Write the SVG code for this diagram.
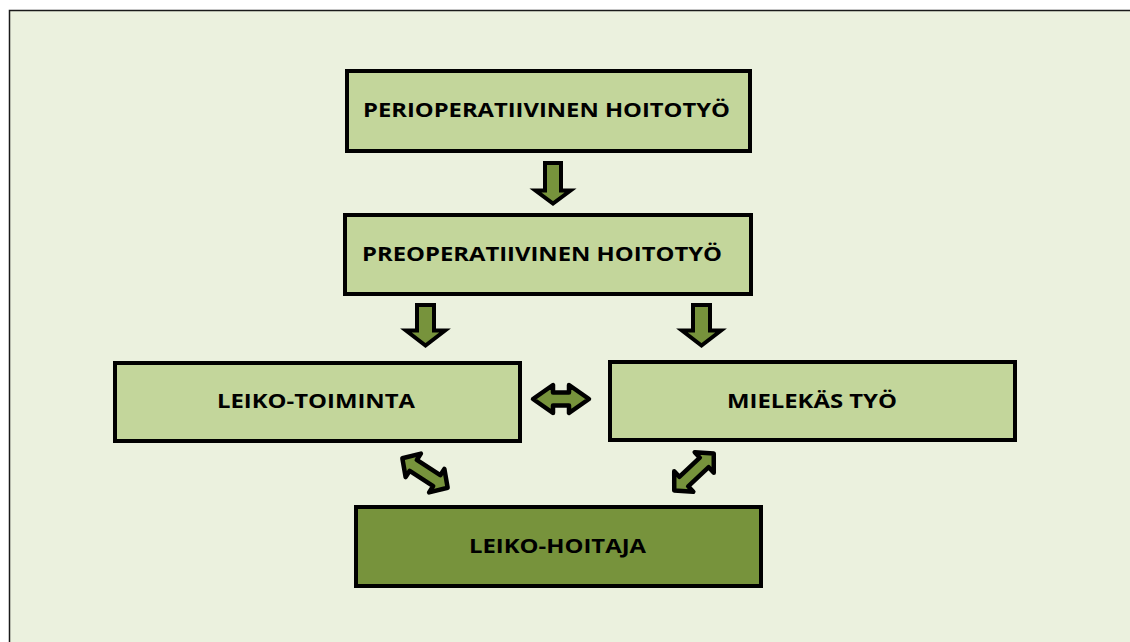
<svg xmlns="http://www.w3.org/2000/svg" width="1130" height="642" viewBox="0 0 1130 642">
  <style>
    .box { fill: #c3d69b; stroke: #000; stroke-width: 4; }
    .dark { fill: #77933c; stroke: #000; stroke-width: 4; }
    .lbl { font-family: "Open Sans", "Liberation Sans", sans-serif; font-weight: 700; font-size: 19.5px; fill: #000; text-anchor: middle; }
    .arr { fill: #77933c; stroke: #000; stroke-width: 4; stroke-linejoin: miter; }
    .arrR { fill: #77933c; stroke: #000; stroke-width: 4.5; stroke-linejoin: round; }
  </style>
  <defs>
    <path id="down1" d="M-8,0 L8,0 L8,27.5 L17.5,27.5 L0,40.5 L-17.5,27.5 L-8,27.5 Z"/>
    <path id="down2" d="M-8.5,0 L8.5,0 L8.5,25.5 L19.5,25.5 L0,40.5 L-19.5,25.5 L-8.5,25.5 Z"/>
    <path id="dbl" d="M-27,0 L-14,-14 L-14,-6.5 L14,-6.5 L14,-14 L27,0 L14,14 L14,6.5 L-14,6.5 L-14,14 Z"/>
  </defs>
  <rect x="0" y="0" width="1130" height="642" fill="#ffffff"/>
  <rect x="9.5" y="10.5" width="1140" height="660" fill="#ebf1de" stroke="#1a1a1a" stroke-width="1.5"/>

  <g id="connectors">
    <use href="#down1" class="arr" transform="translate(553,163)"/>
    <use href="#down2" class="arr" transform="translate(425.5,305)"/>
    <use href="#down2" class="arr" transform="translate(701.5,305)"/>
    <path class="arrR" d="M533,399 L553,385 L553,392.5 L569,392.5 L569,385 L589,399 L569,413 L569,405.5 L553,405.5 L553,413 Z"/>
    <use href="#dbl" class="arrR" transform="translate(425,473) rotate(33)"/>
    <use href="#dbl" class="arrR" transform="translate(694,472) rotate(-43)"/>
  </g>

  <g id="perioperatiivinen">
    <rect class="box" x="347" y="71" width="403" height="80"/>
    <text class="lbl" x="546.5" y="117" textLength="367" lengthAdjust="spacingAndGlyphs">PERIOPERATIIVINEN HOITOTYÖ</text>
  </g>
  <g id="preoperatiivinen">
    <rect class="box" x="345" y="215" width="406" height="79"/>
    <text class="lbl" x="542" y="261" textLength="360" lengthAdjust="spacingAndGlyphs">PREOPERATIIVINEN HOITOTYÖ</text>
  </g>
  <g id="leiko-toiminta">
    <rect class="box" x="115" y="363" width="405" height="78"/>
    <text class="lbl" x="316" y="408" textLength="198" lengthAdjust="spacingAndGlyphs">LEIKO-TOIMINTA</text>
  </g>
  <g id="mielekas-tyo">
    <rect class="box" x="610" y="362" width="405" height="78"/>
    <text class="lbl" x="812" y="408" textLength="170" lengthAdjust="spacingAndGlyphs">MIELEKÄS TYÖ</text>
  </g>
  <g id="leiko-hoitaja">
    <rect class="dark" x="356" y="507" width="405" height="79"/>
    <text class="lbl" x="557.5" y="553" textLength="177" lengthAdjust="spacingAndGlyphs">LEIKO-HOITAJA</text>
  </g>
</svg>
